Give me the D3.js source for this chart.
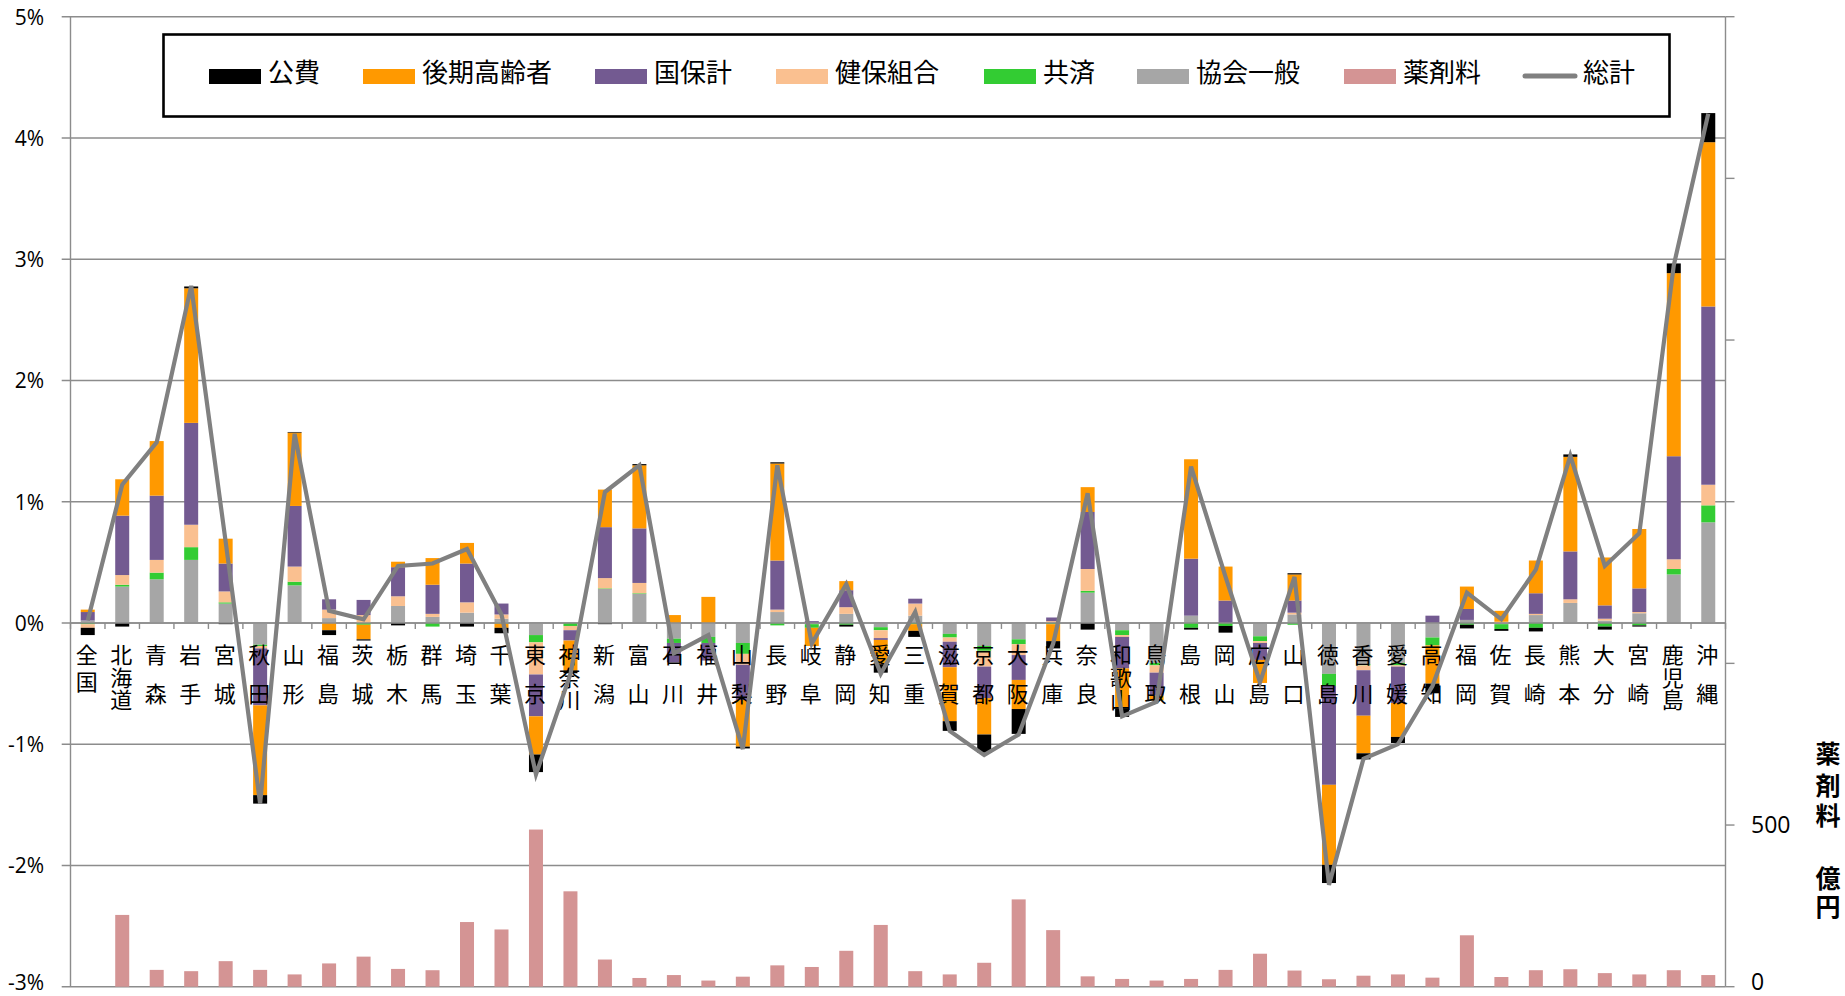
<!DOCTYPE html>
<html><head><meta charset="utf-8">
<script src="https://cdn.jsdelivr.net/npm/d3@7"></script>
<style>body{margin:0;background:#fff;} svg{display:block}</style>
</head><body><svg id="c" width="1845" height="996"></svg>
<script>
const categories = ["全国","北海道","青森","岩手","宮城","秋田","山形","福島","茨城","栃木","群馬","埼玉","千葉","東京","神奈川","新潟","富山","石川","福井","山梨","長野","岐阜","静岡","愛知","三重","滋賀","京都","大阪","兵庫","奈良","和歌山","鳥取","島根","岡山","広島","山口","徳島","香川","愛媛","高知","福岡","佐賀","長崎","熊本","大分","宮崎","鹿児島","沖縄"];

const kyokai = [0.02,0.30,0.36,0.52,0.16,-0.18,0.31,0.04,0.0,0.14,0.05,0.085,0.035,-0.10,0.0,0.28,0.24,-0.13,-0.115,-0.165,0.09,-0.01,0.075,-0.035,0.06,-0.09,-0.19,-0.135,0.005,0.25,-0.06,-0.33,0.06,0.0,-0.11,0.07,-0.42,-0.34,-0.33,-0.12,0.025,-0.01,0.065,0.165,0.02,0.08,0.40,0.83];
const kyosai = [-0.01,0.015,0.055,0.105,0.01,-0.01,0.03,0.0,-0.015,0.0,-0.03,0.0,-0.005,-0.06,-0.025,0.005,0.005,-0.035,-0.05,-0.09,-0.02,-0.03,-0.015,-0.025,-0.01,-0.03,-0.04,-0.04,-0.01,0.015,-0.04,-0.02,-0.04,-0.025,-0.04,-0.015,-0.10,-0.01,-0.02,-0.065,-0.015,-0.04,-0.04,0.0,-0.03,-0.02,0.045,0.14];
const kenpo = [-0.03,0.08,0.105,0.185,0.09,-0.02,0.125,0.07,0.065,0.08,0.025,0.085,0.035,-0.265,-0.035,0.085,0.085,0.0,0.0,-0.09,0.02,0.0,0.055,-0.065,0.10,-0.035,-0.13,-0.09,0.01,0.18,-0.015,-0.06,0.0,0.0,-0.015,0.015,0.0,-0.04,-0.01,0.0,0.0,0.01,0.01,0.03,0.015,0.01,0.08,0.17];
const kokuho = [0.07,0.49,0.53,0.84,0.23,-0.47,0.50,0.085,0.125,0.24,0.24,0.32,0.09,-0.345,-0.085,0.42,0.45,-0.16,-0.145,-0.29,0.405,0.015,0.14,-0.015,0.04,-0.21,-0.26,-0.205,0.03,0.47,-0.26,-0.19,0.47,0.185,-0.14,0.10,-0.815,-0.375,-0.30,0.06,0.09,0.0,0.17,0.395,0.11,0.195,0.85,1.47];
const koki = [0.02,0.30,0.45,1.11,0.205,-0.74,0.605,-0.06,-0.12,0.045,0.22,0.17,-0.035,-0.315,-0.25,0.31,0.52,0.065,0.215,-0.385,0.80,-0.15,0.075,-0.20,-0.055,-0.445,-0.30,-0.24,-0.14,0.205,-0.33,-0.04,0.82,0.28,-0.19,0.215,-0.66,-0.31,-0.28,-0.315,0.185,0.09,0.27,0.78,0.395,0.49,1.51,1.355];
const kohi = [-0.06,-0.03,0.0,0.015,-0.01,-0.07,0.005,-0.04,-0.01,-0.02,0.0,-0.03,-0.045,-0.145,-0.02,-0.01,0.01,0.0,0.0,-0.015,0.01,0.0,-0.015,-0.07,-0.05,-0.08,-0.15,-0.205,-0.06,-0.055,-0.07,0.0,-0.015,-0.055,0.0,0.01,-0.15,-0.05,-0.05,-0.08,-0.03,-0.015,-0.03,0.02,-0.025,-0.01,0.08,0.24];
const total = [0.02,1.14,1.49,2.78,0.67,-1.49,1.56,0.10,0.03,0.47,0.49,0.61,0.07,-1.25,-0.42,1.08,1.30,-0.25,-0.10,-1.04,1.30,-0.17,0.32,-0.42,0.09,-0.89,-1.09,-0.92,-0.17,1.07,-0.77,-0.65,1.29,0.38,-0.49,0.38,-2.16,-1.12,-1.00,-0.52,0.25,0.03,0.44,1.38,0.47,0.74,2.95,4.20];
const drug = [null,222,52,48,79,52,38,72,93,55,51,200,177,486,295,84,27,36,19,31,66,61,111,191,48,38,74,270,175,32,24,19,24,52,102,50,23,34,38,28,159,30,51,54,42,38,51,36];

const yTicks = [-3,-2,-1,0,1,2,3,4,5];
const yTickLabels = ["-3%","-2%","-1%","0%","1%","2%","3%","4%","5%"];
const rightTicks = [0,500,1000,1500,2000,2500,3000];
const rightTickLabels = ["0","500","","","","",""];
const rightTitleChars = ["薬","剤","料","億","円"];
const seriesNames = ["公費","後期高齢者","国保計","健保組合","共済","協会一般","薬剤料","総計"];
const seriesColors = ["#000000","#FF9900","#735A91","#FAC090","#33CC33","#A6A6A6","#D49494","#808080"];

// layout
const L = 70.5, R = 1725.5, T = 16.7, B = 986.7;
const svg = d3.select("#c");
const x = d3.scaleBand().domain(categories).range([L, R]).padding(0);
const y = d3.scaleLinear().domain([-3, 5]).range([B, T]);
const y2 = d3.scaleLinear().domain([0, 3000]).range([B, T]);
const barW = 14;
const cx = c => x(c) + x.bandwidth() / 2;
const colorOf = d3.scaleOrdinal().domain(seriesNames).range(seriesColors);

const numFont = "'Open Sans','Liberation Sans',sans-serif";
const jpFont = "'Noto Sans CJK JP','Noto Sans CJK SC',sans-serif";
const gridColor = "#8c8c8c";

// gridlines
svg.append("g").selectAll("line").data(yTicks).join("line")
  .attr("x1", 61.7).attr("x2", R)
  .attr("y1", d => y(d)).attr("y2", d => y(d))
  .attr("stroke", gridColor).attr("stroke-width", 1.4);

// left labels
svg.append("g").selectAll("text").data(yTicks).join("text")
  .attr("x", 44).attr("y", d => Math.min(y(d) + 8, 990))
  .attr("text-anchor", "end")
  .attr("font-family", numFont).attr("font-size", 21).attr("fill", "#000")
  .text((d, i) => yTickLabels[i]);

// drug bars (secondary axis)
svg.append("g").selectAll("rect").data(categories.map((c, i) => ({c, v: drug[i]})).filter(d => d.v != null)).join("rect")
  .attr("x", d => cx(d.c) - barW / 2).attr("width", barW)
  .attr("y", d => y2(d.v)).attr("height", d => y2(0) - y2(d.v))
  .attr("fill", colorOf("薬剤料"));

// stacked bars
const stackKeys = ["協会一般","共済","健保組合","国保計","後期高齢者","公費"];
const seriesArrays = {"協会一般": kyokai, "共済": kyosai, "健保組合": kenpo, "国保計": kokuho, "後期高齢者": koki, "公費": kohi};
const rows = categories.map((c, i) => {
  const r = {cat: c};
  stackKeys.forEach(k => r[k] = seriesArrays[k][i]);
  return r;
});
const stacked = d3.stack().keys(stackKeys).offset(d3.stackOffsetDiverging)(rows);
svg.append("g").selectAll("g").data(stacked).join("g")
  .attr("fill", s => colorOf(s.key))
  .selectAll("rect").data(s => s).join("rect")
  .attr("x", d => cx(d.data.cat) - barW / 2).attr("width", barW)
  .attr("y", d => y(Math.max(d[0], d[1])))
  .attr("height", d => Math.abs(y(d[0]) - y(d[1])));

// axes lines
svg.append("line").attr("x1", L).attr("x2", L).attr("y1", T).attr("y2", B).attr("stroke", gridColor).attr("stroke-width", 1.4);
svg.append("line").attr("x1", R).attr("x2", R).attr("y1", T).attr("y2", B).attr("stroke", gridColor).attr("stroke-width", 1.4);
svg.append("line").attr("x1", L).attr("x2", R).attr("y1", y(0)).attr("y2", y(0)).attr("stroke", gridColor).attr("stroke-width", 1.4);

// category tick marks
const bounds = d3.range(categories.length + 1).map(i => L + i * x.step());
svg.append("g").selectAll("line").data(bounds).join("line")
  .attr("x1", d => d).attr("x2", d => d)
  .attr("y1", y(0)).attr("y2", y(0) + 6)
  .attr("stroke", gridColor).attr("stroke-width", 1.4);

// right axis ticks & labels
svg.append("g").selectAll("line").data(rightTicks).join("line")
  .attr("x1", R).attr("x2", R + 9)
  .attr("y1", d => y2(d)).attr("y2", d => y2(d))
  .attr("stroke", gridColor).attr("stroke-width", 1.4);
svg.append("g").selectAll("text").data(rightTicks).join("text")
  .attr("x", 1751).attr("y", d => Math.min(y2(d) + 8.3, 990))
  .attr("font-family", numFont).attr("font-size", 23).attr("fill", "#000")
  .text((d, i) => rightTickLabels[i]);

// right title (one text, stacked characters)
const titleY = [752, 784, 814, 877, 905];
const rt = svg.append("text")
  .attr("text-anchor", "middle").attr("dominant-baseline", "central")
  .attr("font-family", jpFont).attr("font-weight", "bold").attr("font-size", 25).attr("fill", "#000");
rightTitleChars.forEach((ch, i) => rt.append("tspan").attr("x", 1828).attr("y", titleY[i]).text(ch));

// category labels (vertical, one char per line, one text per category)
const labelG = svg.append("g");
categories.forEach(c => {
  const chars = Array.from(c);
  let ys;
  if (chars.length === 3) ys = [653, 675.5, 698];
  else if (c === "全国") ys = [653, 680];
  else ys = [653, 691.5];
  const t = labelG.append("text")
    .attr("text-anchor", "middle").attr("dominant-baseline", "central")
    .attr("font-family", jpFont).attr("font-size", 22).attr("fill", "#000");
  chars.forEach((ch, j) => {
    t.append("tspan").attr("x", cx(c) - 1).attr("y", ys[j]).text(ch);
  });
});

// total line
svg.append("path")
  .datum(categories.map((c, i) => [cx(c), y(total[i])]))
  .attr("fill", "none").attr("stroke", colorOf("総計")).attr("stroke-width", 4.2)
  .attr("stroke-linejoin", "miter")
  .attr("d", d3.line());

// legend
svg.append("rect").attr("x", 163.5).attr("y", 34.5).attr("width", 1506).attr("height", 82)
  .attr("fill", "#fff").attr("stroke", "#000").attr("stroke-width", 2.6);
const legX = [209, 363, 595, 776, 984, 1137, 1344, 1524];
const lg = svg.append("g").selectAll("g").data(seriesNames).join("g")
  .attr("transform", (d, i) => `translate(${legX[i]},0)`);
lg.filter(d => d !== "総計").append("rect")
  .attr("x", 0).attr("y", 69).attr("width", 52).attr("height", 15)
  .attr("fill", d => colorOf(d));
lg.filter(d => d === "総計").append("line")
  .attr("x1", 1).attr("x2", 51).attr("y1", 76).attr("y2", 76)
  .attr("stroke", d => colorOf(d)).attr("stroke-width", 5).attr("stroke-linecap", "round");
lg.append("text")
  .attr("x", 59).attr("y", 70)
  .attr("dominant-baseline", "central")
  .attr("font-family", jpFont).attr("font-size", 26).attr("fill", "#000")
  .text(d => d);
</script></body></html>
